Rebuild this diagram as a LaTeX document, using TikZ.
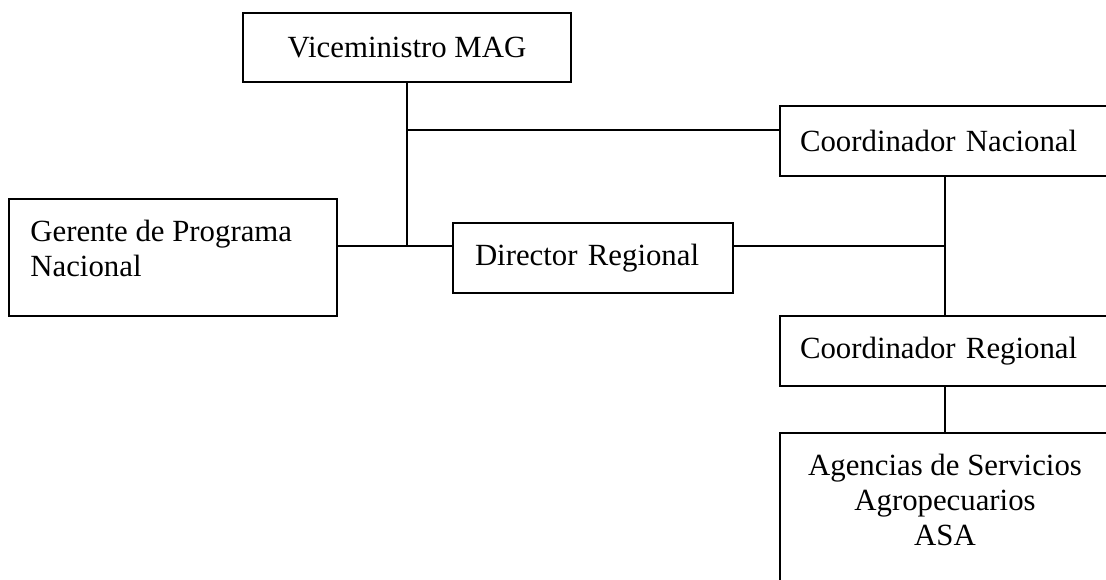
\documentclass[tikz,border=0pt]{standalone}
\usepackage{fontspec}
\setmainfont{Liberation Serif}
\tikzstyle{every node}=[font=\fontsize{15.4pt}{17.5pt}\selectfont, inner sep=0pt]
\tikzstyle{orgbox}=[draw, rectangle, line width=0.9pt]
\tikzstyle{orgline}=[line width=0.9pt]

\begin{document}
\begin{tikzpicture}[x=0.5pt, y=-0.5pt]
  \clip (0,0) rectangle (1106,579);

  \node[orgbox, minimum width=164pt, minimum height=34.5pt] (vm) at (407,47.5) {Viceministro MAG};
  \node[orgbox, minimum width=165pt, minimum height=35pt, text width=145pt, align=left, inner xsep=10pt] (cn) at (945,141) {Coordinador Nacional};
  \node[orgbox, minimum width=164pt, minimum height=58.5pt] (gp) at (173,257.5) {};
  \node[anchor=north west, align=left] (gptext) at (30,220) {Gerente de Programa\\Nacional};
  \node[orgbox, minimum width=140pt, minimum height=35pt, text width=118pt, align=left, inner xsep=11pt] (dr) at (593,258) {Director Regional};
  \node[orgbox, minimum width=165pt, minimum height=35pt, text width=145pt, align=left, inner xsep=10pt] (cr) at (945,351) {Coordinador Regional};
  \node[orgbox, minimum width=165pt, minimum height=103.5pt] (ag) at (945,536.5) {};
  \node[anchor=north, align=center] (agtext) at (945,454) {Agencias de Servicios\\Agropecuarios\\ASA};

  \coordinate (jv) at (407,246);
  \coordinate (jh) at (407,130);
  \coordinate (jr) at (945,246);

  \draw[orgline] (vm.south) -- (jv);
  \draw[orgline] (jh) -- (cn.west |- jh);
  \draw[orgline] (gp.east |- jv) -- (dr.west |- jv);
  \draw[orgline] (dr.east |- jr) -- (jr);
  \draw[orgline] (cn.south) -- (cr.north);
  \draw[orgline] (cr.south) -- (ag.north);
\end{tikzpicture}
\end{document}
